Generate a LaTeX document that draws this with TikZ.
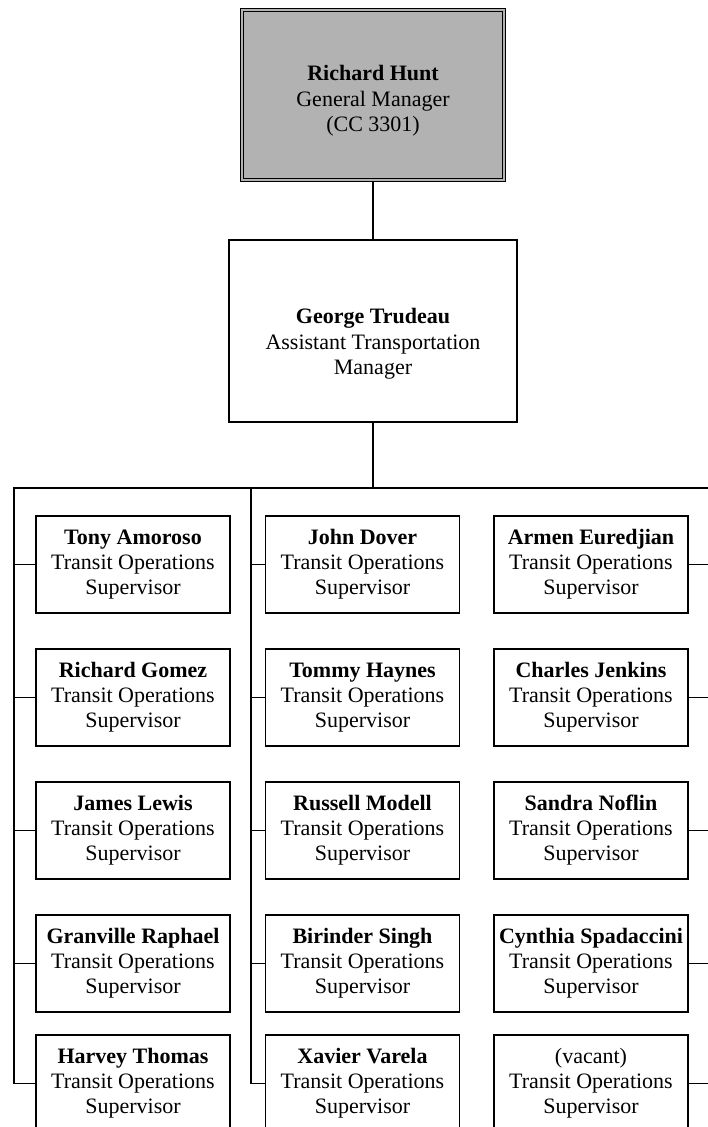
\documentclass[tikz,border=0pt]{standalone}
\usepackage{fontspec}
\setmainfont{Liberation Serif}
\begin{document}
\begin{tikzpicture}[x=1pt,y=-1pt,
  line width=1.6pt,
  txt/.style={align=center,inner sep=0pt,font=\fontsize{22}{25.5}\selectfont},
  supbox/.style={draw,rectangle,minimum width=194pt,minimum height=97pt,inner sep=0pt,
    align=center,font=\fontsize{22}{25}\selectfont},
  gmbox/.style={draw,rectangle,fill=black!30,double=black!30,double distance=2pt,line width=1.4pt,
    minimum width=262pt,minimum height=170pt,inner sep=0pt},
  atmbox/.style={draw,rectangle,minimum width=288pt,minimum height=182pt,inner sep=0pt},
  conn/.style={line width=1.6pt}
]
\useasboundingbox (0,0) rectangle (707,1127);

% top managers
\node[gmbox] (rh) at (373,95) {};
\node[txt] (rht) at (373,101) {\textbf{Richard Hunt}\\General Manager\\(CC 3301)};
\node[atmbox] (gt) at (373,331) {};
\node[txt] (gtt) at (373,344) {\textbf{George Trudeau}\\Assistant Transportation\\Manager};

% supervisors, column 1
\node[supbox] (a1) at (133,564.5) {\textbf{Tony Amoroso}\\Transit Operations\\Supervisor};
\node[supbox] (a2) at (133,697.5) {\textbf{Richard Gomez}\\Transit Operations\\Supervisor};
\node[supbox] (a3) at (133,830.5) {\textbf{James Lewis}\\Transit Operations\\Supervisor};
\node[supbox] (a4) at (133,963.5) {\textbf{Granville Raphael}\\Transit Operations\\Supervisor};
\node[supbox] (a5) at (133,1083.5) {\textbf{Harvey Thomas}\\Transit Operations\\Supervisor};
% column 2
\node[supbox] (b1) at (362.5,564.5) {\textbf{John Dover}\\Transit Operations\\Supervisor};
\node[supbox] (b2) at (362.5,697.5) {\textbf{Tommy Haynes}\\Transit Operations\\Supervisor};
\node[supbox] (b3) at (362.5,830.5) {\textbf{Russell Modell}\\Transit Operations\\Supervisor};
\node[supbox] (b4) at (362.5,963.5) {\textbf{Birinder Singh}\\Transit Operations\\Supervisor};
\node[supbox] (b5) at (362.5,1083.5) {\textbf{Xavier Varela}\\Transit Operations\\Supervisor};
% column 3
\node[supbox] (c1) at (591,564.5) {\textbf{Armen Euredjian}\\Transit Operations\\Supervisor};
\node[supbox] (c2) at (591,697.5) {\textbf{Charles Jenkins}\\Transit Operations\\Supervisor};
\node[supbox] (c3) at (591,830.5) {\textbf{Sandra Noflin}\\Transit Operations\\Supervisor};
\node[supbox] (c4) at (591,963.5) {\textbf{Cynthia Spadaccini}\\Transit Operations\\Supervisor};
\node[supbox] (c5) at (591,1083.5) {(vacant)\\Transit Operations\\Supervisor};

% bus coordinates
\coordinate (busL) at (14,488);
\coordinate (busM) at (251,488);
\coordinate (busR) at (708,488);
\coordinate (edgeR) at (708,488);

% connectors
\draw[conn] (rh.south) -- (gt.north);
\draw[conn] (gt.south) -- (gt.south |- busL);
\draw[conn] (busR) -- (busL) -- (busL |- a5.west) -- (a5.west);
\foreach \n in {a1,a2,a3,a4}{\draw[conn] (busL |- \n.west) -- (\n.west);}
\draw[conn] (busM) -- (busM |- b5.west) -- (b5.west);
\foreach \n in {b1,b2,b3,b4}{\draw[conn] (busM |- \n.west) -- (\n.west);}
\foreach \n in {c1,c2,c3,c4,c5}{\draw[conn] (\n.east) -- (\n.east -| edgeR);}
\end{tikzpicture}
\end{document}
